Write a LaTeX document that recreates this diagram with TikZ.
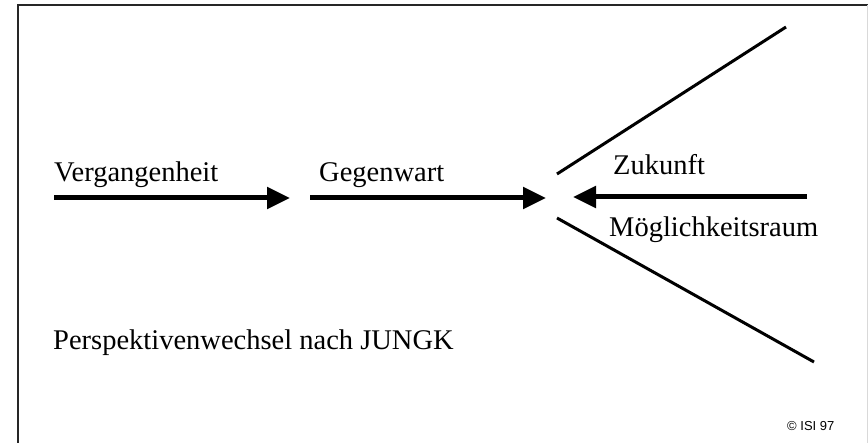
\documentclass[tikz,border=0pt]{standalone}
\usepackage{fontspec}
\setmainfont{Liberation Serif}
\newfontfamily\arialfont{Liberation Sans}
\usetikzlibrary{arrows.meta}
\tikzset{
  lbl/.style={anchor=base west, inner sep=0pt, font=\fontsize{28.5}{30}\selectfont},
  bigarrow/.style={line width=5pt, -{Triangle[length=23pt,width=21pt]}},
  fanline/.style={line width=3pt},
  frameline/.style={line width=2pt, black!85}
}
\begin{document}
\begin{tikzpicture}[x=1pt,y=-1pt]
\useasboundingbox (0,0) rectangle (868,443);
% frame
\coordinate (fl) at (18,443);
\coordinate (ftl) at (18,5);
\coordinate (ftr) at (868,5);
\draw[frameline] (fl) -- (ftl) -- (ftr);
\coordinate (rt) at (867.5,5);
\coordinate (rb) at (867.5,443);
\draw[black!15, line width=1pt] (rt) -- (rb);
% texts
\node[lbl] (verg) at (54,182) {Vergangenheit};
\node[lbl] (gegen) at (319,182) {Gegenwart};
\node[lbl] (zuk) at (613,175) {Zukunft};
\node[lbl] (moeg) at (609,237) {Möglichkeitsraum};
\node[lbl] (persp) at (53,350) {Perspektivenwechsel nach JUNGK};
\node[anchor=base west, inner sep=0pt, font=\arialfont\fontsize{13}{14}\selectfont] (isi) at (787,431) {© ISI 97};
% arrows
\coordinate (a1s) at (54,198);
\coordinate (a1e) at (290,198);
\coordinate (a2s) at (310,198);
\coordinate (a2e) at (546,198);
\coordinate (a3s) at (807,197);
\coordinate (a3e) at (573,197);
\draw[bigarrow] (a1s) -- (a1e);
\draw[bigarrow] (a2s) -- (a2e);
\draw[bigarrow] (a3s) -- (a3e);
% fan lines
\coordinate (u1) at (557,174);
\coordinate (u2) at (786,27);
\coordinate (d1) at (557,218);
\coordinate (d2) at (814,362);
\draw[fanline] (u1) -- (u2);
\draw[fanline] (d1) -- (d2);
\end{tikzpicture}
\end{document}
